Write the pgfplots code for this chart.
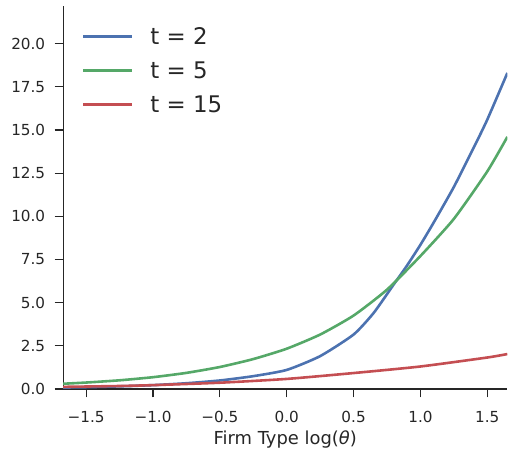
\documentclass[border=0pt]{standalone}
\usepackage{fontspec}
\setmainfont{DejaVu Sans}
\usepackage{pgfplots}
\pgfplotsset{compat=1.18}
\definecolor{sbblue}{HTML}{4C72B0}
\definecolor{sbgreen}{HTML}{55A868}
\definecolor{sbred}{HTML}{C44E52}
\definecolor{ink}{HTML}{262626}
\begin{document}
\begin{tikzpicture}
\begin{axis}[
  scale only axis,
  width=445bp, height=384bp,
  xmin=-1.672, xmax=1.65,
  ymin=0, ymax=22.2,
  axis lines=left,
  axis line style={-, ink, line width=1.3bp},
  tick align=outside,
  major tick length=8.5bp,
  tick style={ink, line width=1.2bp},
  xtick={-1.5,-1,-0.5,0,0.5,1,1.5},
  xticklabels={−1.5,−1.0,−0.5,0.0,0.5,1.0,1.5},
  ytick={0,2.5,5,7.5,10,12.5,15,17.5,20},
  yticklabels={0.0,2.5,5.0,7.5,10.0,12.5,15.0,17.5,20.0},
  ticklabel style={font=\fontsize{15.3}{18}\selectfont, text=ink},
  yticklabel style={xshift=-6bp},
  xticklabel style={yshift=-10bp},
  xlabel={Firm Type log({\itshape θ})},
  xlabel style={font=\fontsize{18}{21}\selectfont, text=ink, yshift=-2bp},
  legend style={at={(0.035,0.955)}, anchor=north west, draw=none, fill=none,
    font=\fontsize{23}{26}\selectfont, text=ink, row sep=12bp,
    /tikz/every odd column/.append style={column sep=15bp}},
  legend cell align=left,
  legend image code/.code={\draw[#1] (0bp,0bp) -- (49bp,0bp);},
  every axis plot/.append style={line width=2.6bp, smooth, tension=0.35},
  clip=true,
]
\addplot[sbblue] coordinates {
(-1.672,0.08) (-1.5,0.10) (-1.25,0.15) (-1.0,0.22) (-0.75,0.33) (-0.5,0.49)
(-0.25,0.74) (0.0,1.1) (0.25,1.9) (0.5,3.15) (0.65,4.4) (0.8,6.05) (0.9,7.15)
(1.0,8.35) (1.1,9.65) (1.25,11.7) (1.4,14.0) (1.5,15.6) (1.65,18.3)};
\addlegendentry{t = 2}
\addplot[sbgreen] coordinates {
(-1.672,0.30) (-1.5,0.37) (-1.25,0.50) (-1.0,0.68) (-0.75,0.93) (-0.5,1.27)
(-0.25,1.73) (0.0,2.33) (0.25,3.15) (0.5,4.25) (0.75,5.75) (1.0,7.7)
(1.25,9.85) (1.5,12.6) (1.65,14.6)};
\addlegendentry{t = 5}
\addplot[sbred] coordinates {
(-1.672,0.12) (-1.25,0.17) (-1.0,0.22) (-0.5,0.36) (0.0,0.58) (0.5,0.92)
(1.0,1.3) (1.5,1.82) (1.65,2.02)};
\addlegendentry{t = 15}
\end{axis}
\path (current bounding box.north east) ++(0,5bp);
\path (current bounding box.south west) ++(-8bp,-7bp);
\end{tikzpicture}
\end{document}
